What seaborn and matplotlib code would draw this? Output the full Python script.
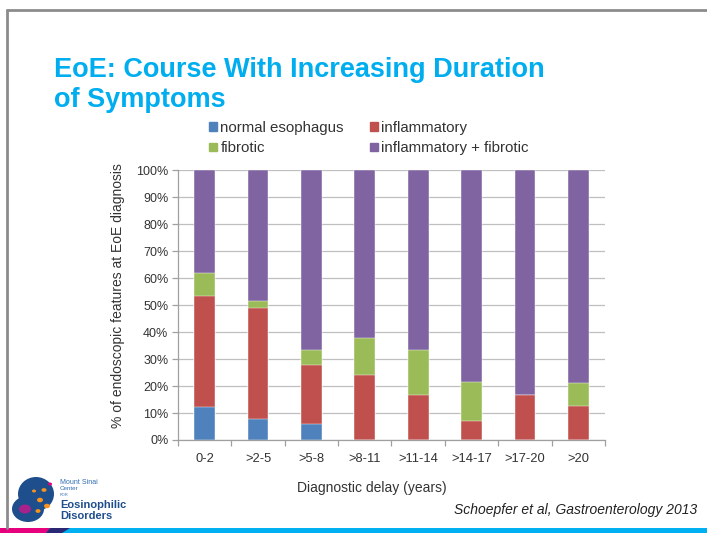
import numpy as np
import pandas as pd
import matplotlib
matplotlib.use("Agg")
import matplotlib.pyplot as plt
import matplotlib.patches as mpatches
import seaborn as sns

categories = ["0-2", ">2-5", ">5-8", ">8-11", ">11-14", ">14-17", ">17-20", ">20"]
normal = [12.2, 7.9, 5.8, 0.0, 0.0, 0.0, 0.0, 0.0]
inflammatory = [41.3, 40.9, 22.0, 24.3, 16.8, 7.2, 16.7, 12.6]
fibrotic = [8.6, 2.6, 5.6, 13.5, 16.6, 14.3, 0.0, 8.4]
infl_fibrotic = [37.9, 48.6, 66.6, 62.2, 66.6, 78.5, 83.3, 79.0]
series_names = ["normal esophagus", "inflammatory", "fibrotic", "inflammatory + fibrotic"]
yticks = [0, 10, 20, 30, 40, 50, 60, 70, 80, 90, 100]

colors = {"normal esophagus": "#4F81BD", "inflammatory": "#C0504D",
          "fibrotic": "#9BBB59", "inflammatory + fibrotic": "#8064A2"}

sns.set_style("white")
plt.rcParams["font.family"] = ["Liberation Sans", "DejaVu Sans"]

fig = plt.figure(figsize=(7.07, 5.33), dpi=100)
ax = fig.add_axes([178/707, 1 - 440/533, (605-178)/707, (440-170.5)/533])

vals = np.array([normal, inflammatory, fibrotic, infl_fibrotic], dtype=float)
cum = np.cumsum(vals, axis=0)
# draw from top segment down so lower segments overlay
for i in range(3, -1, -1):
    df = pd.DataFrame({"delay": categories, "pct": cum[i] / 100.0})
    sns.barplot(data=df, x="delay", y="pct", order=categories, color=colors[series_names[i]],
                saturation=1, width=0.39, ax=ax, edgecolor="white", linewidth=0.3)

ax.set_xlim(-0.5, len(categories) - 0.5)
ax.set_ylim(0, 1.0)
ax.set_yticks([t / 100 for t in yticks])
ax.set_yticklabels([f"{t}%" for t in yticks], fontsize=9, color="#333333")
ax.yaxis.grid(True, color="#BFBFBF", linewidth=0.9)
ax.set_axisbelow(True)
ax.tick_params(axis="y", length=4, color="#A0A0A0", width=0.9, pad=3, left=True)
ax.set_xticks(range(len(categories)))
ax.set_xticklabels(categories, fontsize=9.3, color="#333333")
ax.set_xticks(np.arange(-0.5, len(categories), 1.0), minor=True)
ax.tick_params(axis="x", which="major", length=0, pad=9)
ax.tick_params(axis="x", which="minor", length=4, color="#A0A0A0", width=0.9, bottom=True)
for s in ["top", "right"]:
    ax.spines[s].set_visible(False)
ax.spines["left"].set_color("#A0A0A0")
ax.spines["bottom"].set_color("#A0A0A0")
ax.spines["left"].set_linewidth(0.9)
ax.spines["bottom"].set_linewidth(0.9)
ax.set_xlabel("")
ax.set_ylabel("")

fig.text(118/707, 1 - 296/533, "% of endoscopic features at EoE diagnosis", rotation=90,
         ha="center", va="center", fontsize=10, color="#333333")
fig.text(372/707, 1 - 488/533, "Diagnostic delay (years)", ha="center", va="center",
         fontsize=10, color="#333333")
fig.text(697/707, 1 - 510/533, "Schoepfer et al, Gastroenterology 2013", ha="right", va="center",
         fontsize=10, style="italic", color="#222222")

# Title
tcol = "#00AEEF"
fig.text(54/707, 1 - 77/533, "EoE: Course With Increasing Duration", ha="left", va="baseline",
         fontsize=19.5, fontweight="bold", color=tcol)
fig.text(54/707, 1 - 107/533, "of Symptoms", ha="left", va="baseline",
         fontsize=19.5, fontweight="bold", color=tcol)

# Legend
handles = [mpatches.Patch(color=colors[n], label=n) for n in series_names]
order = [0, 2, 1, 3]
leg = fig.legend([handles[i] for i in order], [series_names[i] for i in order], ncol=2,
                 loc="center left", bbox_to_anchor=(209/707, 1 - 138/533), frameon=False,
                 fontsize=10.8, handlelength=0.5, handleheight=0.5, handletextpad=0.25,
                 columnspacing=1.75, labelspacing=0.45, borderaxespad=0, borderpad=0)
for t in leg.get_texts():
    t.set_color("#333333")

# Slide frame
fig.add_artist(plt.Line2D([7/707, 1], [1 - 10/533, 1 - 10/533], color="#8C8C8C", lw=2))
fig.add_artist(plt.Line2D([7/707, 7/707], [1 - 10/533, 1 - 528/533], color="#8C8C8C", lw=2))

# bottom stripe
fig.add_artist(mpatches.Rectangle((0, 0), 1, 5/533, transform=fig.transFigure, color="#00B0F0", lw=0))
fig.add_artist(mpatches.Polygon([[0, 0], [46/707, 0], [50/707, 5/533], [0, 5/533]],
                                transform=fig.transFigure, color="#E6007E", lw=0))
fig.add_artist(mpatches.Polygon([[46/707, 0], [62/707, 0], [70/707, 5/533], [50/707, 5/533]],
                                transform=fig.transFigure, color="#2A2874", lw=0))

# Logo approximation
navy = "#1F4E8C"
fig.add_artist(mpatches.Ellipse((36/707, 1 - 494/533), 36/707, 34/533, transform=fig.transFigure,
                                color=navy, lw=0))
fig.add_artist(mpatches.Ellipse((28/707, 1 - 509/533), 32/707, 26/533, transform=fig.transFigure,
                                color=navy, lw=0))
fig.add_artist(mpatches.Circle((25/707, 1 - 509/533), 6/707, transform=fig.transFigure,
                               color="#A8228C", lw=0))
for (cx, cy, r, c) in [(40, 500, 3, "#F7941D"), (44, 490, 2.5, "#F7941D"), (34, 491, 2, "#F7941D"),
                       (47, 506, 3, "#F7941D"), (38, 511, 2.5, "#F7941D"), (50, 484, 2, "#E6007E")]:
    fig.add_artist(mpatches.Circle((cx/707, 1 - cy/533), r/707, transform=fig.transFigure,
                                   color=c, lw=0))
fig.text(60/707, 1 - 482/533, "Mount Sinai", fontsize=5, color="#2E6DB4", va="center")
fig.text(60/707, 1 - 489/533, "Center", fontsize=4.5, color="#2E6DB4", va="center")
fig.text(60/707, 1 - 495/533, "FOR", fontsize=3, color="#2E6DB4", va="center")
fig.text(60/707, 1 - 505/533, "Eosinophilic", fontsize=8, color=navy, va="center", fontweight="bold")
fig.text(60/707, 1 - 516/533, "Disorders", fontsize=8, color=navy, va="center", fontweight="bold")

fig.savefig("out.png", dpi=100)
